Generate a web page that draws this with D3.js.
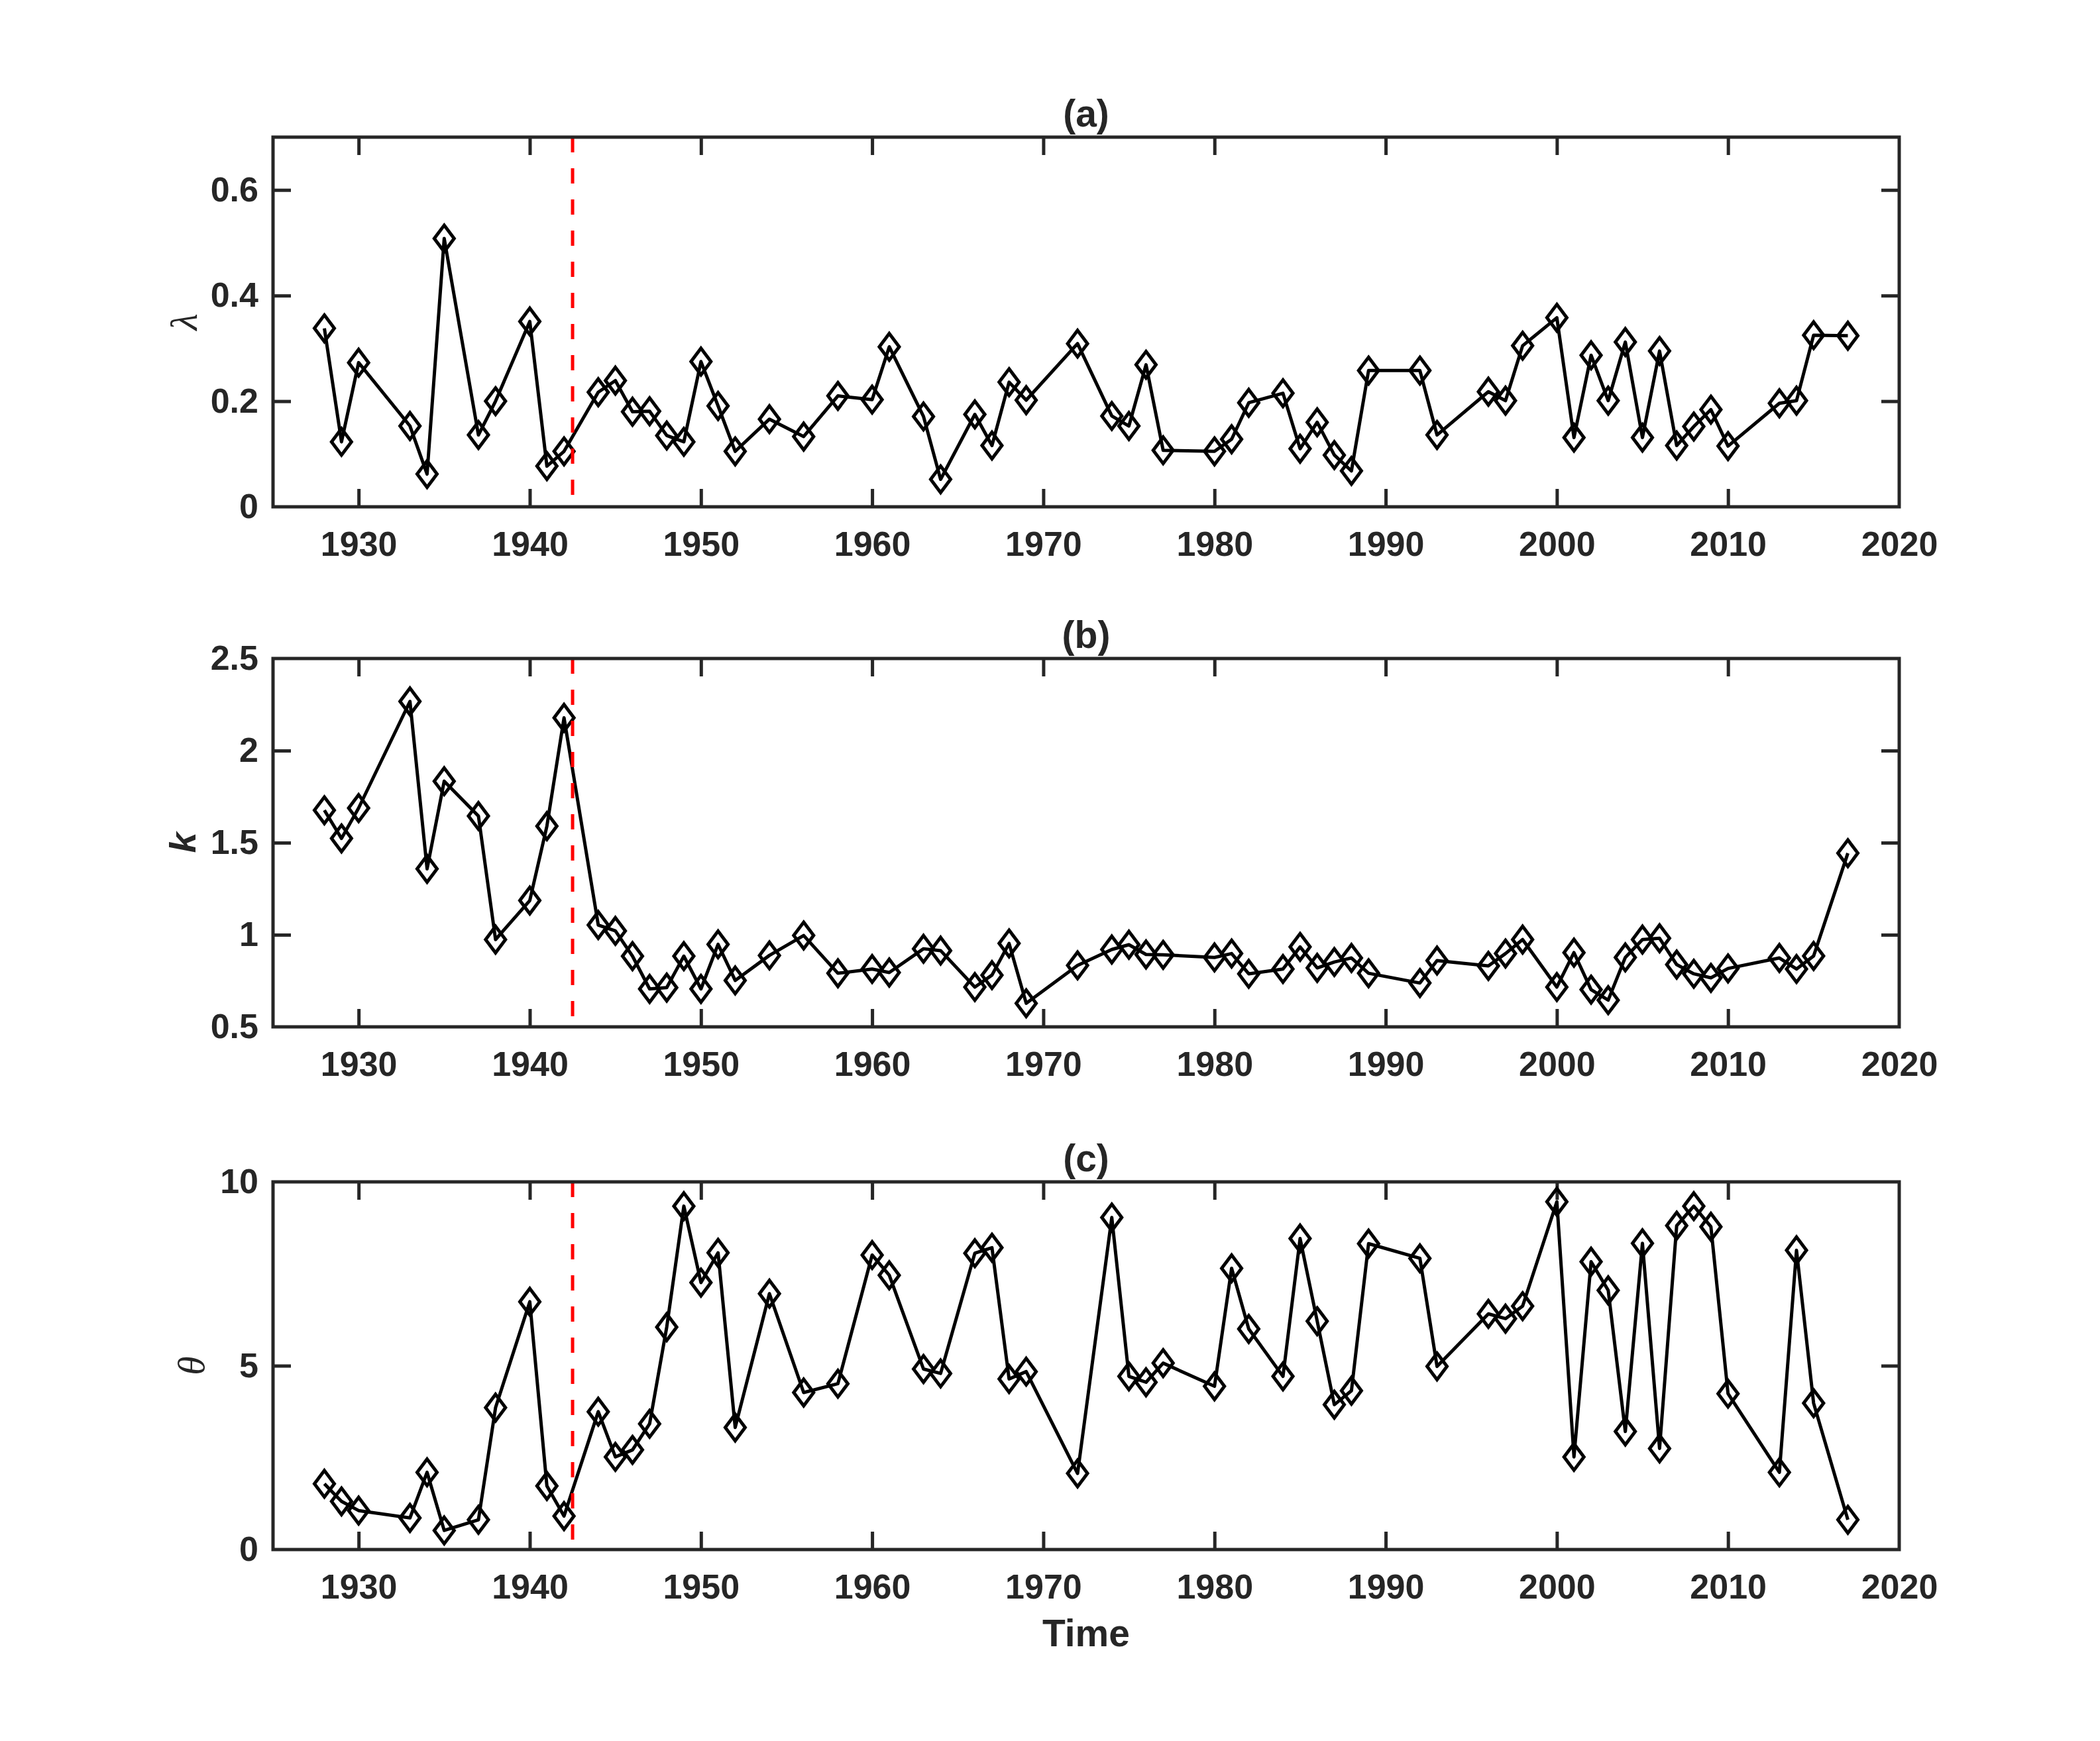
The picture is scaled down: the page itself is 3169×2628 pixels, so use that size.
<!DOCTYPE html>
<html>
<head>
<meta charset="utf-8">
<script src="https://cdn.jsdelivr.net/npm/d3@7"></script>
<style>
  body { margin: 0; background: #fff; }
  .tick text { font-family: "Liberation Sans", Arial, sans-serif; font-weight: bold; fill: #262626; }
</style>
</head>
<body>
<div id="chart-container"></div>
<script>
// data
const years = [1928,1929,1930,1933,1934,1935,1937,1938,1940,1941,
  1942,1944,1945,1946,1947,1948,1949,1950,1951,1952,
  1954,1956,1958,1960,1961,1963,1964,1966,1967,1968,
  1969,1972,1974,1975,1976,1977,1980,1981,1982,1984,
  1985,1986,1987,1988,1989,1992,1993,1996,1997,1998,
  2000,2001,2002,2003,2004,2005,2006,2007,2008,2009,
  2010,2013,2014,2015,2017];

const lambda = [0.338,0.123,0.273,0.153,0.062,0.508,0.136,0.200,0.351,0.077,
  0.105,0.217,0.239,0.180,0.181,0.135,0.123,0.275,0.191,0.105,
  0.166,0.133,0.210,0.203,0.303,0.171,0.052,0.175,0.116,0.236,
  0.202,0.309,0.172,0.153,0.269,0.107,0.105,0.128,0.197,0.215,
  0.110,0.160,0.098,0.068,0.258,0.258,0.136,0.218,0.201,0.305,
  0.358,0.131,0.287,0.201,0.312,0.131,0.295,0.116,0.152,0.184,
  0.115,0.196,0.201,0.325,0.324];

const kShape = [1.676,1.523,1.688,2.267,1.358,1.834,1.645,0.974,1.186,1.590,
  2.178,1.053,1.021,0.884,0.706,0.713,0.884,0.706,0.948,0.752,
  0.888,0.996,0.791,0.814,0.795,0.924,0.914,0.716,0.781,0.953,
  0.628,0.834,0.920,0.946,0.893,0.891,0.877,0.898,0.788,0.814,
  0.934,0.820,0.852,0.874,0.791,0.738,0.860,0.831,0.898,0.974,
  0.716,0.903,0.702,0.645,0.877,0.974,0.981,0.838,0.788,0.766,
  0.817,0.874,0.814,0.885,1.443];

const theta = [1.79,1.31,1.06,0.86,2.10,0.52,0.81,3.86,6.74,1.73,
  0.91,3.75,2.52,2.71,3.42,6.05,9.34,7.26,8.07,3.32,
  6.96,4.27,4.51,8.01,7.46,4.91,4.79,8.06,8.21,4.64,
  4.84,2.07,9.03,4.71,4.55,5.07,4.44,7.65,6.00,4.71,
  8.46,6.21,3.94,4.32,8.32,7.92,4.98,6.41,6.28,6.62,
  9.46,2.52,7.83,7.05,3.21,8.33,2.75,8.81,9.34,8.78,
  4.24,2.10,8.14,3.98,0.81];

const xTicks = [1930,1940,1950,1960,1970,1980,1990,2000,2010,2020];
const breakYear = 1942.5;
const panelTitles = ["(a)", "(b)", "(c)"];
const yTicksA = [0, 0.2, 0.4, 0.6];
const yTicksB = [0.5, 1, 1.5, 2, 2.5];
const yTicksC = [0, 5, 10];

const W = 3169, H = 2628;
const left = 412, right = 2866;
const axisColor = "#262626";
const tickLen = 27;

const panels = [
  {values: lambda, domain: [0, 0.7], ticks: yTicksA, top: 207, bottom: 765,
   label: "\u03BB", labelX: 297, labelFont: "'Liberation Serif', serif", labelStyle: "italic", labelWeight: "normal", labelSize: 58},
  {values: kShape, domain: [0.5, 2.5], ticks: yTicksB, top: 994, bottom: 1550,
   label: "k", labelX: 295, labelFont: "'Liberation Sans', Arial, sans-serif", labelStyle: "italic", labelWeight: "bold", labelSize: 56},
  {values: theta, domain: [0, 10], ticks: yTicksC, top: 1784, bottom: 2339,
   label: "\u03B8", labelX: 308, labelFont: "'Liberation Serif', serif", labelStyle: "italic", labelWeight: "normal", labelSize: 58}
];

const svg = d3.select("#chart-container")
  .append("svg")
    .attr("width", W)
    .attr("height", H)
    .style("background", "#fff");

const x = d3.scaleLinear().domain([1925, 2020]).range([left, right]);

// MATLAB style diamond marker (taller than wide)
const diamond = "M0,-20L15,0L0,20L-15,0Z";

panels.forEach((p, i) => {
  const y = d3.scaleLinear().domain(p.domain).range([p.bottom, p.top]);
  const g = svg.append("g");

  // bottom axis with labels
  const xb = g.append("g")
    .attr("transform", `translate(0,${p.bottom})`)
    .call(d3.axisBottom(x).tickValues(xTicks).tickFormat(d3.format("d"))
      .tickSizeInner(-tickLen).tickSizeOuter(0).tickPadding(37));
  // top axis, ticks only
  const xt = g.append("g")
    .attr("transform", `translate(0,${p.top})`)
    .call(d3.axisTop(x).tickValues(xTicks).tickFormat("")
      .tickSizeInner(-tickLen).tickSizeOuter(0));
  // left axis with labels
  const yl = g.append("g")
    .attr("transform", `translate(${left},0)`)
    .call(d3.axisLeft(y).tickValues(p.ticks).tickFormat(d3.format(""))
      .tickSizeInner(-tickLen).tickSizeOuter(0).tickPadding(22));
  // right axis, ticks only
  const yr = g.append("g")
    .attr("transform", `translate(${right},0)`)
    .call(d3.axisRight(y).tickValues(p.ticks).tickFormat("")
      .tickSizeInner(-tickLen).tickSizeOuter(0));

  [xb, xt, yl, yr].forEach(a => {
    a.select(".domain").remove();
    a.selectAll(".tick line").attr("stroke", axisColor).attr("stroke-width", 5);
    a.selectAll(".tick text").style("font-size", "52px");
  });
  // drop ticks that sit on the frame
  [xb, xt].forEach(a => a.selectAll(".tick line").filter(d => d === 2020).remove());
  [yl, yr].forEach(a => a.selectAll(".tick line")
    .filter(d => d === p.domain[0] || d === p.domain[1]).remove());

  // data line
  const pts = years.map((yr, j) => [yr, p.values[j]]);
  g.append("path")
    .datum(pts)
    .attr("fill", "none")
    .attr("stroke", "#000")
    .attr("stroke-width", 5)
    .attr("stroke-linejoin", "round")
    .attr("d", d3.line().x(d => x(d[0])).y(d => y(d[1])));

  // markers
  g.append("g")
    .selectAll("path")
    .data(pts)
    .enter()
    .append("path")
      .attr("d", diamond)
      .attr("transform", d => `translate(${x(d[0])},${y(d[1])})`)
      .attr("fill", "none")
      .attr("stroke", "#000")
      .attr("stroke-width", 5);

  // red dashed break line
  g.append("line")
    .attr("x1", x(breakYear)).attr("x2", x(breakYear))
    .attr("y1", p.top).attr("y2", p.bottom)
    .attr("stroke", "#ff0000")
    .attr("stroke-width", 5)
    .attr("stroke-dasharray", "23,24");

  // frame
  g.append("rect")
    .attr("x", left).attr("y", p.top)
    .attr("width", right - left).attr("height", p.bottom - p.top)
    .attr("fill", "none")
    .attr("stroke", axisColor)
    .attr("stroke-width", 5);

  // panel title
  g.append("text")
    .attr("x", (left + right) / 2)
    .attr("y", p.top - 16)
    .attr("text-anchor", "middle")
    .style("font-family", "'Liberation Sans', Arial, sans-serif")
    .style("font-weight", "bold")
    .style("font-size", "57px")
    .style("fill", axisColor)
    .text(panelTitles[i]);

  // y label
  g.append("text")
    .attr("transform", `translate(${p.labelX},${(p.top + p.bottom) / 2}) rotate(-90)`)
    .attr("text-anchor", "middle")
    .style("font-family", p.labelFont)
    .style("font-style", p.labelStyle)
    .style("font-weight", p.labelWeight)
    .style("font-size", p.labelSize + "px")
    .style("fill", axisColor)
    .text(p.label);
});

// x axis label
svg.append("text")
  .attr("x", (left + right) / 2)
  .attr("y", 2485)
  .attr("text-anchor", "middle")
  .style("font-family", "'Liberation Sans', Arial, sans-serif")
  .style("font-weight", "bold")
  .style("font-size", "57px")
  .style("fill", axisColor)
  .text("Time");
</script>
</body>
</html>
